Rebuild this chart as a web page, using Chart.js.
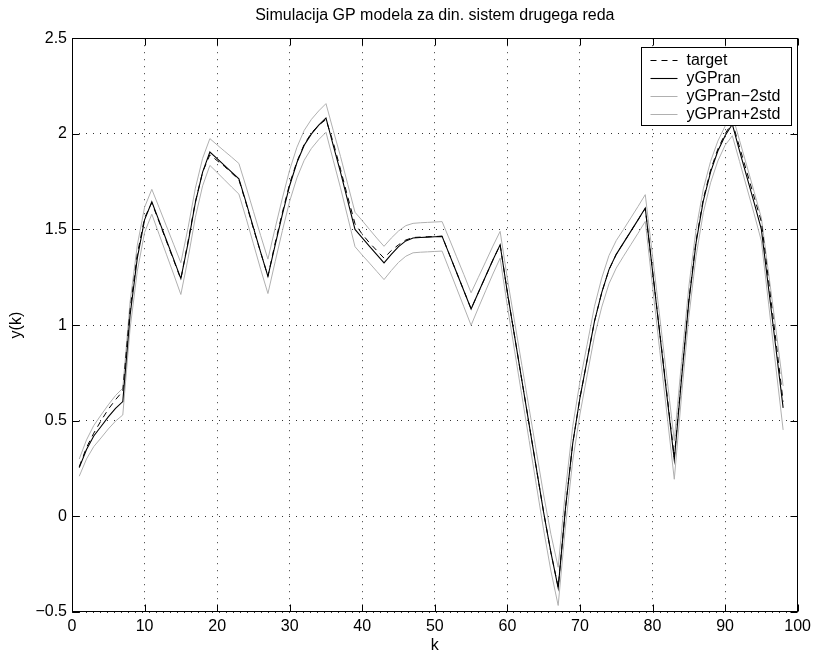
<!DOCTYPE html>
<html>
<head>
<meta charset="utf-8">
<title>Simulacija GP modela</title>
<script src="https://cdn.jsdelivr.net/npm/chart.js@4/dist/chart.umd.min.js"></script>
<style>
  html, body { margin: 0; padding: 0; background: #fff; }
</style>
</head>
<body>
<canvas id="sim_chart" width="816" height="654"></canvas>
<script>
// Simulation of a second-order dynamic system, k = 1..98
const target = [
  0.26, 0.36, 0.435, 0.50, 0.56, 0.61, 0.655, 1.08, 1.37, 1.56,
  1.64, 1.54, 1.44, 1.34, 1.24, 1.44, 1.645, 1.80, 1.89, 1.86,
  1.83, 1.795, 1.76, 1.635, 1.505, 1.38, 1.255, 1.43, 1.59, 1.74,
  1.855, 1.945, 2.005, 2.045, 2.075, 1.955, 1.815, 1.67, 1.53, 1.475,
  1.43, 1.39, 1.35, 1.39, 1.42, 1.445, 1.458, 1.46, 1.462, 1.463,
  1.465, 1.37, 1.275, 1.18, 1.085, 1.17, 1.255, 1.34, 1.42, 1.17,
  0.94, 0.71, 0.48, 0.25, 0.02, -0.19, -0.37, 0.04, 0.38, 0.62,
  0.82, 1.02, 1.17, 1.29, 1.37, 1.43, 1.49, 1.55, 1.61, 1.285,
  0.96, 0.635, 0.31, 0.73, 1.13, 1.44, 1.66, 1.81, 1.92, 2.00,
  2.06, 1.93, 1.80, 1.67, 1.54, 1.23, 0.92, 0.60
];

const yGPran = [
  0.255, 0.35, 0.42, 0.47, 0.52, 0.565, 0.60, 1.05, 1.35, 1.55,
  1.645, 1.545, 1.445, 1.345, 1.243, 1.43, 1.64, 1.80, 1.905, 1.87,
  1.835, 1.80, 1.765, 1.64, 1.51, 1.38, 1.255, 1.42, 1.58, 1.73,
  1.85, 1.94, 2.00, 2.045, 2.083, 1.94, 1.80, 1.65, 1.50, 1.456,
  1.412, 1.368, 1.325, 1.37, 1.41, 1.44, 1.455, 1.458, 1.46, 1.462,
  1.464, 1.37, 1.275, 1.18, 1.084, 1.17, 1.255, 1.34, 1.42, 1.17,
  0.94, 0.71, 0.48, 0.25, 0.02, -0.19, -0.374, 0.04, 0.38, 0.62,
  0.82, 1.02, 1.17, 1.29, 1.37, 1.43, 1.49, 1.55, 1.612, 1.283,
  0.954, 0.625, 0.296, 0.72, 1.12, 1.43, 1.65, 1.80, 1.91, 1.99,
  2.05, 1.91, 1.775, 1.64, 1.50, 1.19, 0.88, 0.567
];

const yLower = [
  0.210, 0.300, 0.365, 0.410, 0.457, 0.498, 0.530, 0.980, 1.282, 1.484,
  1.580, 1.475, 1.371, 1.267, 1.160, 1.350, 1.564, 1.728, 1.835, 1.798,
  1.760, 1.722, 1.685, 1.558, 1.425, 1.292, 1.165, 1.332, 1.495, 1.648,
  1.770, 1.862, 1.924, 1.970, 2.008, 1.862, 1.718, 1.564, 1.410, 1.366,
  1.324, 1.281, 1.238, 1.285, 1.328, 1.360, 1.378, 1.381, 1.383, 1.385,
  1.387, 1.290, 1.193, 1.096, 0.999, 1.090, 1.179, 1.267, 1.350, 1.098,
  0.864, 0.630, 0.396, 0.162, -0.072, -0.286, -0.466, -0.055, 0.290, 0.535,
  0.740, 0.942, 1.094, 1.216, 1.298, 1.360, 1.420, 1.480, 1.542, 1.203,
  0.866, 0.530, 0.194, 0.630, 1.040, 1.360, 1.588, 1.744, 1.858, 1.940,
  1.990, 1.855, 1.718, 1.582, 1.440, 1.110, 0.780, 0.452
];

const yUpper = [
  0.300, 0.400, 0.475, 0.530, 0.583, 0.632, 0.670, 1.120, 1.418, 1.616,
  1.710, 1.615, 1.519, 1.423, 1.326, 1.510, 1.716, 1.872, 1.975, 1.942,
  1.910, 1.878, 1.845, 1.722, 1.595, 1.468, 1.345, 1.508, 1.665, 1.812,
  1.930, 2.018, 2.076, 2.120, 2.158, 2.018, 1.882, 1.736, 1.590, 1.546,
  1.500, 1.455, 1.412, 1.455, 1.492, 1.520, 1.532, 1.535, 1.537, 1.539,
  1.541, 1.450, 1.357, 1.264, 1.169, 1.250, 1.331, 1.413, 1.490, 1.242,
  1.016, 0.790, 0.564, 0.338, 0.112, -0.094, -0.266, 0.135, 0.470, 0.705,
  0.900, 1.098, 1.246, 1.364, 1.442, 1.500, 1.560, 1.620, 1.682, 1.363,
  1.042, 0.720, 0.396, 0.810, 1.200, 1.500, 1.712, 1.856, 1.962, 2.040,
  2.100, 1.965, 1.832, 1.698, 1.560, 1.270, 0.980, 0.682
];

const kSteps = yGPran.map((_, i) => i + 1);
const xTicks = [0, 10, 20, 30, 40, 50, 60, 70, 80, 90, 100];
const yTicks = [-0.5, 0, 0.5, 1, 1.5, 2, 2.5];

const FONT = "'Liberation Sans', Arial, Helvetica, sans-serif";

function toPoints(values) {
  return values.map((v, i) => ({ x: kSteps[i], y: v }));
}

// frame with inward tick marks and a boxed legend in the upper right
const matlabAxes = {
  id: 'matlabAxes',
  afterDatasetsDraw(chart) {
    const { ctx, chartArea: a, scales: { x, y } } = chart;
    const L = Math.round(a.left) + 0.5;
    const R = Math.round(a.right) - 0.5;
    const T = Math.round(a.top) + 0.5;
    const B = Math.round(a.bottom) - 0.5;
    const tick = 7;

    ctx.save();
    ctx.strokeStyle = '#000';
    ctx.lineWidth = 1;
    ctx.setLineDash([]);
    ctx.strokeRect(L, T, R - L, B - T);

    ctx.beginPath();
    xTicks.forEach(v => {
      const px = Math.round(x.getPixelForValue(v)) + 0.5;
      ctx.moveTo(px, B); ctx.lineTo(px, B - tick);
      ctx.moveTo(px, T); ctx.lineTo(px, T + tick);
    });
    yTicks.forEach(v => {
      const py = Math.round(y.getPixelForValue(v)) + 0.5;
      ctx.moveTo(L, py); ctx.lineTo(L + tick, py);
      ctx.moveTo(R, py); ctx.lineTo(R - tick, py);
    });
    ctx.stroke();

    // legend box
    const bx = 641.5, by = 47.5, bw = 150, bh = 78;
    ctx.fillStyle = '#fff';
    ctx.fillRect(bx, by, bw, bh);
    ctx.strokeRect(bx, by, bw, bh);

    ctx.font = '16px ' + FONT;
    ctx.textBaseline = 'middle';
    ctx.textAlign = 'left';
    chart.data.datasets.forEach((ds, i) => {
      const ly = Math.round(by + 12 + i * 18.3) + 0.5;
      ctx.beginPath();
      ctx.strokeStyle = ds.borderColor;
      ctx.lineWidth = ds.borderWidth;
      ctx.setLineDash(ds.borderDash || []);
      ctx.moveTo(bx + 9, ly);
      ctx.lineTo(bx + 36, ly);
      ctx.stroke();
      ctx.setLineDash([]);
      ctx.fillStyle = '#000';
      ctx.fillText(ds.label, bx + 45, ly);
    });
    ctx.restore();
  }
};

const ctx = document.getElementById('sim_chart').getContext('2d');

const config = {
  type: 'line',
  data: {
    datasets: [
      {
        label: 'target',
        data: toPoints(target),
        borderColor: '#000',
        borderWidth: 1,
        borderDash: [6, 5],
        order: 0
      },
      {
        label: 'yGPran',
        data: toPoints(yGPran),
        borderColor: '#000',
        borderWidth: 1.1,
        order: 1
      },
      {
        label: 'yGPran\u22122std',
        data: toPoints(yLower),
        borderColor: '#b0b0b0',
        borderWidth: 1,
        order: 2
      },
      {
        label: 'yGPran+2std',
        data: toPoints(yUpper),
        borderColor: '#b0b0b0',
        borderWidth: 1,
        order: 2
      }
    ]
  },
  options: {
    responsive: false,
    animation: false,
    events: [],
    elements: {
      point: { radius: 0 },
      line: { tension: 0, fill: false }
    },
    layout: { padding: { left: 0, right: 17, top: 0, bottom: 0 } },
    plugins: {
      legend: { display: false },
      tooltip: { enabled: false },
      title: {
        display: true,
        fullSize: false,
        text: 'Simulacija GP modela za din. sistem drugega reda',
        color: '#000',
        font: { family: FONT, size: 16, weight: 'normal', lineHeight: 1.2 },
        padding: { top: 6, bottom: 13 }
      }
    },
    scales: {
      x: {
        type: 'linear',
        min: 0,
        max: 100,
        afterFit(scale) { scale.height = 42; },
        afterBuildTicks(scale) { scale.ticks = xTicks.map(v => ({ value: v })); },
        ticks: {
          color: '#000',
          font: { family: FONT, size: 16 },
          padding: 5,
          maxRotation: 0,
          autoSkip: false
        },
        grid: { color: 'rgba(0,0,0,0.8)', lineWidth: 1, drawTicks: false },
        border: { display: false, dash: [1, 6] },
        title: {
          display: true,
          text: 'k',
          color: '#000',
          font: { family: FONT, size: 16, lineHeight: 1 },
          padding: { top: 0, bottom: 0 }
        }
      },
      y: {
        type: 'linear',
        min: -0.5,
        max: 2.5,
        afterFit(scale) { scale.width = 72; },
        afterBuildTicks(scale) { scale.ticks = yTicks.map(v => ({ value: v })); },
        ticks: {
          color: '#000',
          font: { family: FONT, size: 16 },
          padding: 5,
          callback: v => (v < 0 ? '\u2212' + Math.abs(v) : String(v))
        },
        grid: { color: 'rgba(0,0,0,0.8)', lineWidth: 1, drawTicks: false },
        border: { display: false, dash: [1, 6] },
        title: {
          display: true,
          text: 'y(k)',
          color: '#000',
          font: { family: FONT, size: 16, lineHeight: 1 },
          padding: { top: 9, bottom: 0 }
        }
      }
    }
  },
  plugins: [matlabAxes]
};

const simChart = new Chart(ctx, config);
</script>
</body>
</html>
